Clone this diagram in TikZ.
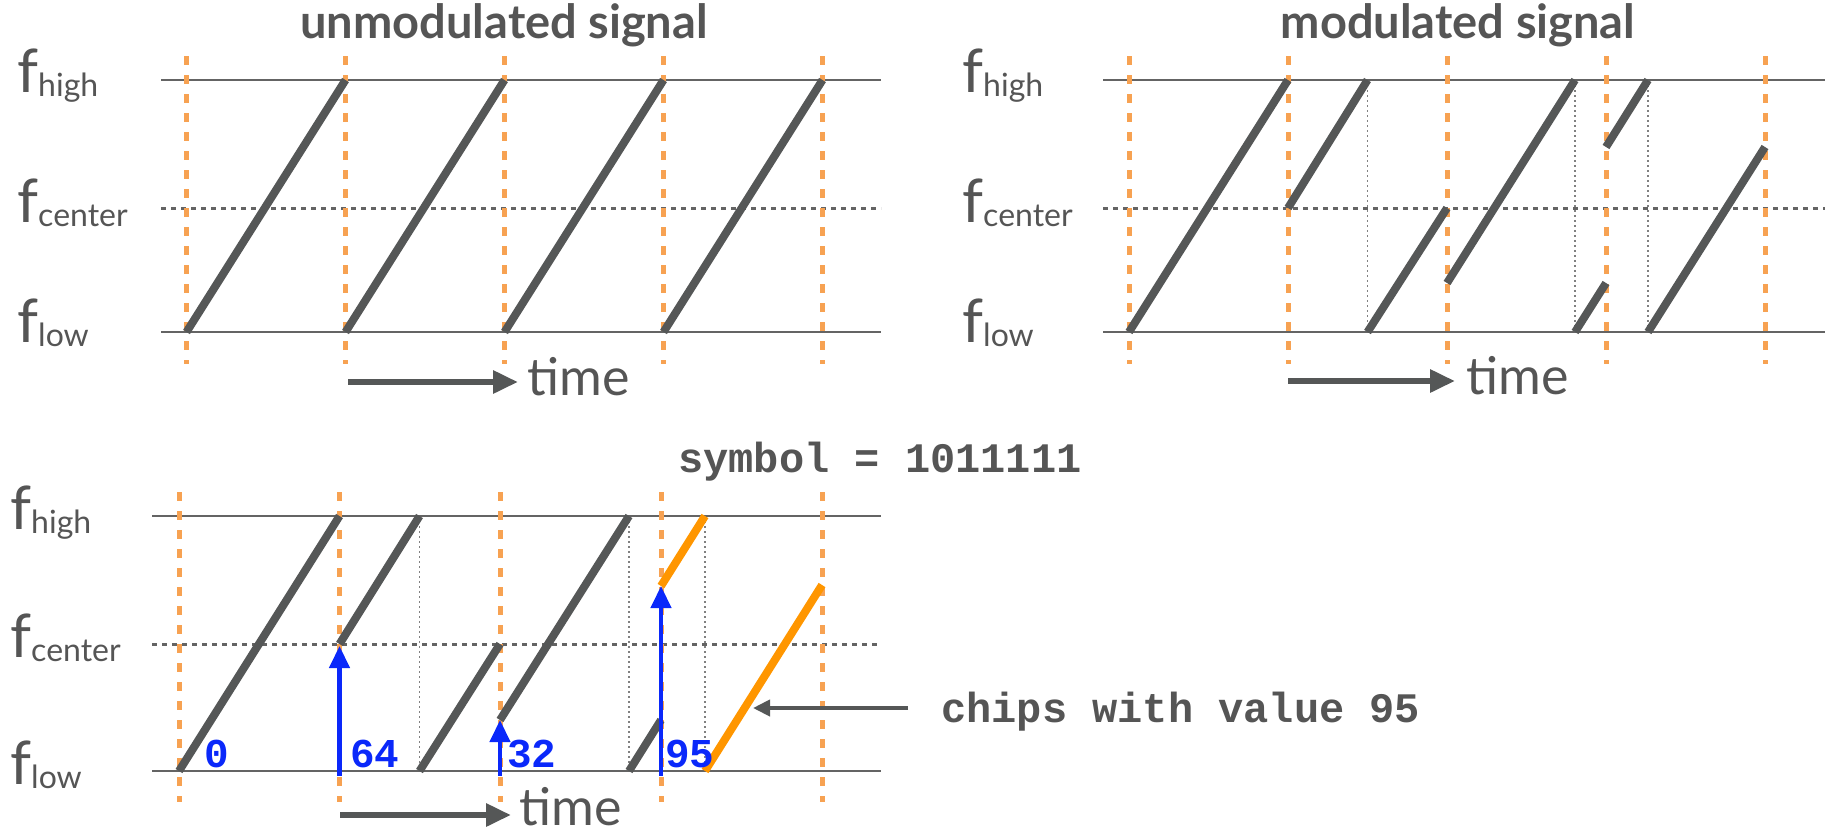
\documentclass[tikz,border=0pt]{standalone}
\usepackage{fontspec}
\setmainfont{Lato}
\setmonofont{Liberation Mono}
\usepackage{tikz}
\usetikzlibrary{arrows.meta, positioning, calc}
\definecolor{txtgray}{RGB}{85,85,85}
\definecolor{linegray}{RGB}{100,100,100}
\definecolor{rampgray}{RGB}{85,87,87}
\definecolor{tickorange}{RGB}{247,162,82}
\definecolor{chiporange}{RGB}{255,150,0}
\definecolor{symblue}{RGB}{10,40,250}
\newcommand{\flevel}[1]{{\fontsize{60}{60}\selectfont f}{\fontsize{32}{32}\selectfont\raisebox{-4pt}{#1}}}

\begin{document}
\begin{tikzpicture}[x=1pt, y=-1pt,
    fline/.style={line width=2.5pt, color=linegray},
    midline/.style={line width=3pt, color=linegray, dash pattern=on 5pt off 5pt},
    symedge/.style={line width=5pt, color=tickorange, dash pattern=on 9pt off 10pt},
    wrapline/.style={line width=1.2pt, color=gray, dash pattern=on 1.5pt off 3.5pt},
    ramp/.style={line width=8pt, color=#1},
    ramp/.default=rampgray,
    flabel/.style={anchor=base west, inner sep=0pt, text=txtgray},
    paneltitle/.style={anchor=base, inner sep=0pt, text=txtgray,
                       font=\fontsize{47}{47}\selectfont\bfseries},
    timelbl/.style={anchor=base west, inner sep=0pt, text=txtgray,
                    font=\fontsize{52}{52}\selectfont},
    tarr/.style={-{Triangle[length=25pt, width=22pt]}, line width=6pt, color=rampgray},
    varr/.style={-{Triangle[length=22pt, width=20pt]}, line width=4.5pt, color=symblue},
    parr/.style={-{Triangle[length=17pt, width=16pt]}, line width=4pt, color=rampgray},
    monolbl/.style={anchor=base west, inner sep=0pt, text=txtgray,
                    font=\fontsize{42}{42}\selectfont\ttfamily\bfseries},
    vallbl/.style={anchor=base west, inner sep=0pt, text=symblue,
                   font=\fontsize{41}{41}\selectfont\ttfamily\bfseries}
  ]
    \useasboundingbox (0,0) rectangle (1825,836);

    % unmodulated signal
    \node[paneltitle] (tunmod) at (504,38) {unmodulated signal};
    \foreach \y/\lv in {92/high, 222/center, 342/low}
      \node[flabel] (u-\lv) at (17,\y) {\flevel{\lv}};
    \draw[fline] (161,80) -- (881,80);
    \draw[midline] (161,208) -- (881,208);
    \draw[fline] (161,332) -- (881,332);
    \foreach \x in {186.5,345.5,504.5,663.5,822.5}
      \draw[symedge] (\x,56) -- (\x,364);
    \foreach \x in {186.5,345.5,504.5,663.5}
      \draw[ramp] (\x,332) -- ++(159,-252);
    \coordinate (ut) at (348,382);
    \node[timelbl] (utime) at (527,395) {time};
    \draw[tarr, shorten >=9pt] (ut) -- (ut -| utime.west);

    % modulated signal
    \node[paneltitle] (tmod) at (1458,38) {modulated signal};
    \foreach \y/\lv in {92/high, 222/center, 342/low}
      \node[flabel] (m-\lv) at (962,\y) {\flevel{\lv}};
    \draw[fline] (1103,80) -- (1825,80);
    \draw[midline] (1103,208) -- (1825,208);
    \draw[fline] (1103,332) -- (1825,332);
    \foreach \x in {1129,1288,1447,1606,1765}
      \draw[symedge] (\x,56) -- (\x,364);
    \foreach \x in {1367.5,1575,1648}
      \draw[wrapline] (\x,80) -- (\x,332);
    \draw[ramp] (1129,332) -- (1288,80);
    \draw[ramp] (1288,208) -- (1367.5,80);
    \draw[ramp] (1367.5,332) -- (1447,208);
    \draw[ramp] (1447,283) -- (1575,80);
    \draw[ramp] (1575,332) -- (1606,283);
    \draw[ramp] (1606,147) -- (1648,80);
    \draw[ramp] (1648,332) -- (1765,147);
    \coordinate (mt) at (1288,381);
    \node[timelbl] (mtime) at (1466,394) {time};
    \draw[tarr, shorten >=11pt] (mt) -- (mt -| mtime.west);

    % one symbol, demodulated
    \node[monolbl] (sym) at (678,472) {symbol = 1011111};
    \foreach \y/\lv in {529/high, 657/center, 784/low}
      \node[flabel] (d-\lv) at (10,\y) {\flevel{\lv}};
    \draw[fline] (152,516) -- (881,516);
    \draw[midline] (152,644) -- (881,644);
    \draw[fline] (152,771) -- (881,771);
    \foreach \x in {179,339.5,500,661,822}
      \draw[symedge] (\x,492) -- (\x,802);
    \foreach \x in {419.5,629,705}
      \draw[wrapline] (\x,516) -- (\x,771);
    \draw[ramp] (179,771) -- (339.5,516);
    \draw[ramp] (339.5,644) -- (419.5,516);
    \draw[ramp] (419.5,771) -- (500,644);
    \draw[ramp] (500,720) -- (629,516);
    \draw[ramp] (629,771) -- (661,720);
    \draw[ramp=chiporange] (661,586) -- (705,516);
    \draw[ramp=chiporange] (705,771) -- (822,585);

    \draw[varr] (339.5,776) -- (339.5,646);
    \draw[varr] (500,776) -- (500,720);
    \draw[varr] (661,776) -- (661,586);
    \node[vallbl] (v0)  at (204,767) {0};
    \node[vallbl] (v64) at (350,767) {64};
    \node[vallbl] (v32) at (507,767) {32};
    \node[vallbl] (v95) at (665,767) {95};

    \node[monolbl] (chips) at (941,722) {chips with value 95};
    \coordinate (chiptip) at (753,708);
    \draw[parr] ($(chiptip -| chips.west)+(-33,0)$) -- (chiptip);

    \coordinate (dt) at (340,815);
    \node[timelbl] (dtime) at (519,825) {time};
    \draw[tarr, shorten >=8pt] (dt) -- (dt -| dtime.west);
  \end{tikzpicture}
\end{document}
